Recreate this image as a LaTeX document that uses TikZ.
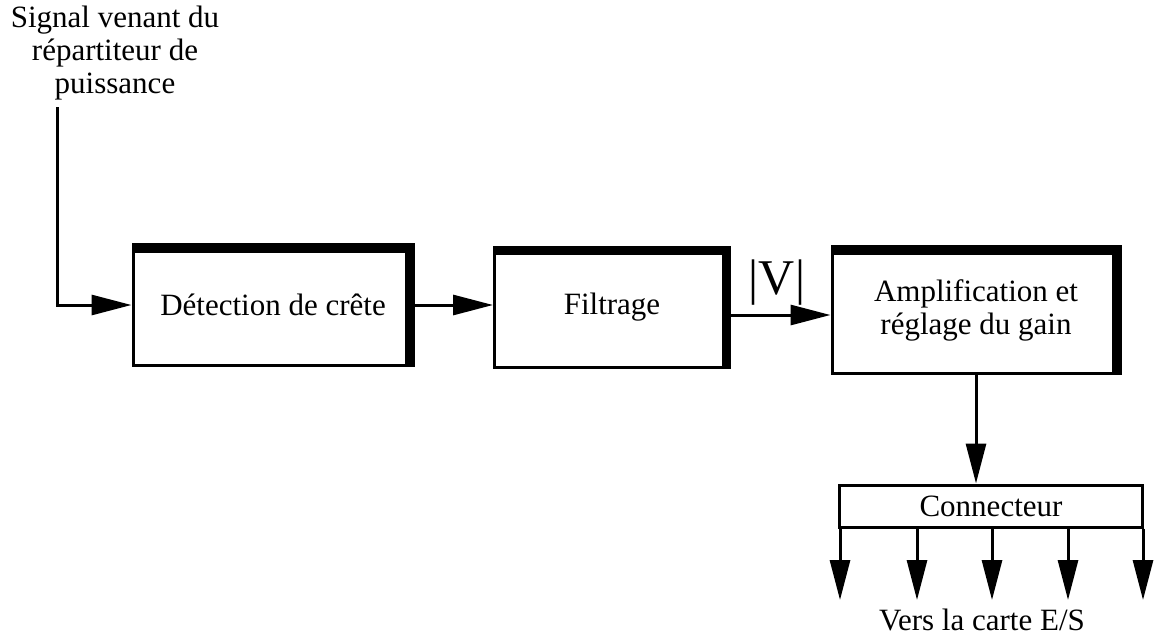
\documentclass[tikz,border=0pt]{standalone}
\usepackage{fontspec}
\setmainfont{Liberation Serif}
\usetikzlibrary{arrows.meta,positioning,calc}

\begin{document}
\begin{tikzpicture}[
  x=1pt,y=-1pt,
  font=\fontsize{31}{33}\selectfont,
  >={Triangle[length=40pt,width=20pt]},
  block/.style={draw,line width=3pt,align=center,inner sep=0pt,
    path picture={
      \fill ([yshift=-8pt]path picture bounding box.north west) rectangle (path picture bounding box.north east);
      \fill ([xshift=-8pt]path picture bounding box.south east) rectangle (path picture bounding box.north east);
    }},
  conbox/.style={draw,line width=3pt,align=center,inner sep=0pt},
  label/.style={align=center,inner sep=0pt},
  flow/.style={->,line width=3pt},
]
\useasboundingbox (0,0) rectangle (1155,635);
% ---- source text and main chain ----
\node[label] (src) at (115,53) {Signal venant du\\répartiteur de\\puissance};
\coordinate (in) at (57,107);
\node[block,minimum width=280pt,minimum height=121pt] (det) at (273,305) {Détection de crête};
\node[block,minimum width=235pt,minimum height=120pt] (filt) at (612,307) {Filtrage};
\node[block,minimum width=288pt,minimum height=127pt] (ampl) at (976,310) {Amplification et\\réglage du gain};
\node[label,font=\fontsize{50}{52}\selectfont] (absv) at (777,283) {|V|};
% ---- connector and outputs ----
\node[conbox,minimum width=303pt,minimum height=42pt] (conn) at (991,506) {Connecteur};
\node[label] (vers) at (982,620) {Vers la carte E/S};
% ---- edges ----
\draw[flow] (in) |- (det.west);
\draw[flow] (det.east) -- (filt.west |- det.east);
\draw[flow] ($(filt.east)+(0,8)$) -- ($(ampl.west |- filt.east)+(0,8)$);
\draw[flow] (ampl.south) -- (ampl.south |- conn.north);
\foreach \i/\x in {1/840,2/917,3/992,4/1068,5/1143} {
  \coordinate (out\i) at (\x,600);
  \draw[flow] (conn.south -| out\i) -- (out\i);
}
\end{tikzpicture}
\end{document}
